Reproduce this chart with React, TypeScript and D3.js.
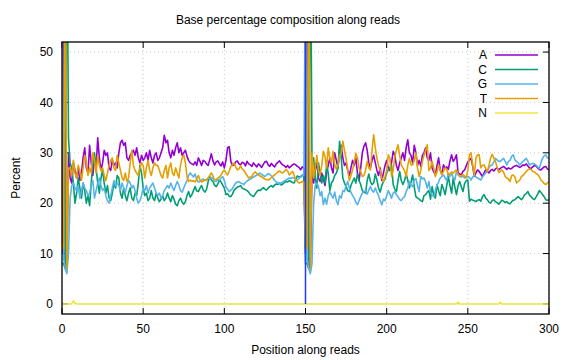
import React from "react";
import * as d3 from "d3";

const title = "Base percentage composition along reads";
const xLabel = "Position along reads";
const yLabel = "Percent";
const xTicks = [0, 50, 100, 150, 200, 250, 300];
const yTicks = [0, 10, 20, 30, 40, 50];
const seriesNames = ["A", "C", "G", "T", "N"];
const seriesColors = ["#9400d3", "#009e73", "#56b4e9", "#e69f00", "#f0e442"];
const separatorPositions = [150];
const separatorColor = "#1f3bff";

// position 0..300
const aValues = [
  10, 72, 8, 7, 30,
  25, 24, 28, 26.5, 25, 27, 24.5, 26, 29, 31,
  27, 26, 31.5, 28, 25.5, 29, 27, 33, 29, 26.5,
  28, 30.5, 29.5, 30, 27, 26.5, 28.5, 27.5, 28, 27,
  30, 32, 32.5, 31.5, 32, 29, 28.5, 29.5, 30, 30.5,
  29.5, 31, 29, 28, 29.5, 28.5, 29, 30, 28.5, 30.5,
  29, 28, 29.5, 30, 28.5, 29, 30, 31, 33.5, 32,
  32.5, 30, 29, 30.5, 29.5, 31, 32, 30, 31, 29.5,
  30, 30.5, 29.3, 28.5, 28, 27.8, 27.6, 28.2, 27.5, 29,
  28.3, 27.5, 28.5, 28.3, 27.8, 27.5, 28.6, 29.8, 28.4, 27.6,
  28.2, 28.4, 27.8, 27.4, 28.2, 27, 28.5, 31, 31.2, 28.3,
  27.5, 27.6, 28.2, 28.4, 27.8, 27.6, 28.1, 28, 27.4, 28.3,
  27.8, 27.6, 27.3, 28, 27.6, 27.2, 27.8, 27.5, 27.1, 27.7,
  28.2, 28.3, 27.6, 27.3, 27.9, 27.5, 27.2, 27.8, 28.1, 28.4,
  27.9, 27.6, 27.4, 27.1, 27.5, 27, 27.3, 27.6, 27.8, 27.6,
  27.3, 27.1, 26.6, 27.2, 26.9,
  10, 72, 8, 7, 27,
  24, 26.5, 28, 25, 24.3, 26, 24.8, 23.5, 26, 27.5,
  29, 27, 26, 30, 28.5, 27, 30.5, 31.5, 29, 27.5,
  28, 26.5, 25.5, 27, 28.5, 27.5, 29, 26, 24.5, 27,
  30, 31.3, 32, 30.5, 28, 27, 28.5, 29.5, 28, 26.5,
  25.5, 27, 24.5, 26, 27.5, 28.5, 27, 26.5, 28, 30.3,
  29.5, 27.5, 26.5, 28, 29, 30, 28.5, 31, 32.6, 30,
  29.5, 28, 31.5, 30, 27.5, 28.5, 27.3, 29.5, 30, 31,
  29, 28.5, 30, 27, 26.2, 25.6, 27.5, 29, 26.5, 25.8,
  27.6, 26.9, 27.2, 26.7, 28.4, 29.6, 28.3, 28.8, 29.6, 26,
  25.8, 25.6, 26.3, 26.6, 27.4, 28.2, 28.6, 28.9, 27.3, 25.3,
  26, 26.6, 26.3, 25.8, 25.3, 26, 26.6, 26.3, 26, 26.5,
  26.7, 26.4, 26.8, 27, 26.6, 26.9, 27.1, 27.3, 27, 26.7,
  27, 26.8, 26.9, 27.2, 27.4, 27.5, 27.3, 27.1, 27.3, 27.6,
  27.5, 27.8, 27.4, 27, 26.9, 27.2, 27.5, 27.4, 27, 26.7,
  26.6, 26.9, 27.2, 27.3, 26.8, 26.6,
];

const cValues = [
  8, 8, 7, 80, 33,
  28, 27, 24, 20, 22, 25, 23, 21, 24, 22.5,
  20, 21.5, 19.5, 24, 28, 30, 27, 24, 22, 25,
  26.5, 24, 22, 23.5, 21, 20.5, 22, 24, 23, 25.5,
  25, 22, 21, 23, 21.5, 20.5, 22, 23, 21, 20.5,
  22, 21.5, 24, 27.5, 26, 23, 21.5, 22, 20.5, 21,
  22.5, 21, 20.5, 22, 21, 20.3, 20.8, 21.5, 20.5, 21,
  22, 21, 20.3, 21.5, 20.8, 19.8, 19.5, 20.5, 21, 20.2,
  19.8, 20.3, 21.5, 22.3, 21.2, 21.7, 22.5, 23.3, 22.4, 22.3,
  23, 23.5, 22.6, 22.2, 22.7, 24.2, 25.3, 24.6, 24.3, 23.6,
  23.3, 23.8, 24.6, 24.2, 23.6, 23, 21.7, 21.9, 21.4, 21.3,
  21.8, 22.6, 22.9, 23.2, 23.3, 23.5, 23, 22.8, 22.7, 22.5,
  22.2, 21.7, 21.5, 21.3, 21.8, 22.3, 22.6, 22.5, 22.8, 23.1,
  22.8, 22.6, 23, 23.3, 23.5, 23.2, 23.6, 23.8, 23.7, 24,
  23.6, 23.8, 24.1, 24.3, 24.2, 24.5, 24.3, 24.1, 24, 24.8,
  25.4, 25.2, 25.3, 25.6, 25.4,
  8, 8, 7, 80, 28,
  29, 25, 23, 28, 26, 24, 25.5, 24, 27.5, 26,
  22.5, 24, 24.5, 25.5, 26, 27, 32.3, 29, 25, 24,
  23.3, 22.5, 22.3, 23.5, 24.3, 25, 24, 25.8, 24.5, 23.7,
  22.5, 22.2, 22, 24.5, 25.8, 24.3, 23.7, 24, 25.8, 24.6,
  23, 22.2, 23.5, 24.3, 24.8, 26, 26.6, 27, 27.6, 23.7,
  22.8, 22.3, 24.5, 26.3, 24.5, 23.7, 24.5, 25.8, 24.6, 23,
  24.2, 25.6, 23.2, 21.3, 21, 20.8, 20.5, 20.3, 21.5, 21.7,
  22.2, 22.5, 20.8, 23.3, 21.6, 21, 23.7, 22.4, 21.5, 23.7,
  22.8, 21.7, 23.5, 25.3, 23.5, 22, 25, 23.2, 21.7, 23.5,
  24.3, 23.2, 22.3, 23.9, 24.5, 24.6, 20.4, 20.8, 20.6, 20.5,
  20.3, 20.6, 20.7, 20.4, 21.3, 21.7, 21, 20.7, 20.2, 20,
  20.5, 20.7, 20.3, 20.1, 19.8, 20.2, 20.6, 20.4, 20.1, 20.3,
  20, 19.9, 20.3, 20.6, 20.7, 21, 21.3, 21, 20.7, 21.1,
  21.7, 21.9, 22.3, 21.6, 21.3, 20.9, 20.7, 21.2, 21.8, 22.5,
  22.2, 21.7, 21.3, 20.7, 20.6, 20.7,
];

const gValues = [
  70, 9, 7, 6, 10,
  21, 23.5, 24, 23, 22.5, 23.5, 21, 22.5, 24, 23,
  22.5, 21.5, 22, 23.5, 24.5, 21, 22.5, 24, 25, 23.5,
  22.5, 23, 21.5, 20.5, 20, 21.5, 23, 24.5, 23.5, 24,
  23.5, 22.5, 24, 23, 22, 23.5, 24.5, 24, 23, 23.5,
  22.5, 21, 20, 20.5, 21.5, 23, 22.5, 23.5, 22, 23,
  23.5, 24, 23, 22, 21.5, 22, 21, 21.5, 22.5, 23,
  23.5, 23, 24, 23.2, 22.5, 23.5, 24.3, 23.5, 22.5, 22.2,
  23, 23.8, 24.5, 25.5, 26, 25.6, 25.2, 25.8, 24.7, 24.2,
  24.3, 24.6, 24.8, 24.5, 24.7, 25, 24.8, 25.1, 24.9, 24.4,
  24.3, 24.7, 24.6, 25, 25.3, 24.5, 23.2, 22.8, 22.3, 22.6,
  22.9, 23.5, 24, 24.2, 24.3, 24, 23.9, 23.7, 24.1, 24.4,
  24.6, 24.8, 25, 25.2, 25.4, 25.6, 25.8, 26, 25.7, 25.5,
  25.3, 25.6, 25.9, 25.7, 25.4, 25, 24.5, 24.2, 24, 23.8,
  24, 24.2, 24.4, 24.6, 24.8, 25, 24.9, 25.1, 25, 24.7,
  24.6, 24.9, 25.2, 25.4, 25.6,
  70, 9, 7, 6, 8,
  20, 23.5, 24, 23.3, 21.5, 22.3, 19.7, 21, 19.8, 21.5,
  22.3, 21.5, 21, 22.2, 20.5, 19.7, 21.5, 21, 22.5, 22.3,
  23.5, 24.3, 23, 22.2, 21.5, 21, 20.2, 19.7, 20.5, 21.3,
  22, 22.3, 22.5, 21.8, 22.6, 23.3, 22.5, 22.2, 23, 22.2,
  21.5, 20.5, 19.7, 20.8, 20.5, 21.5, 22.5, 21.8, 21, 22,
  22.3, 21.7, 21.3, 20.7, 20.5, 21, 21.3, 22.3, 23, 24.3,
  23.6, 23.3, 24.6, 24.9, 23.5, 22.3, 25.3, 24.8, 25, 24.2,
  23, 24.3, 22.3, 21.6, 21.3, 22.5, 23.6, 24.2, 25, 25.3,
  25.6, 25, 24.5, 26, 25.3, 26, 25.1, 24.6, 26.3, 25.6,
  25.3, 25.2, 25.4, 25, 25.2, 25.3, 25.1, 24.6, 25.2, 25.6,
  25.2, 25, 24.8, 24.6, 25.2, 25.6, 26, 26.3, 27, 27.5,
  27.6, 28.2, 28.9, 28.6, 28.3, 28.3, 28.6, 28.9, 28.3, 27.6,
  28.3, 28.5, 29.3, 29.6, 28.6, 28.3, 28, 27.6, 28, 28.3,
  28.6, 28.9, 28.3, 27.6, 27.8, 27.9, 27.8, 27.6, 27.2, 26.9,
  28, 28.9, 29.4, 29.6, 29, 28.9,
];

const tValues = [
  12, 11, 78, 7, 27,
  27, 25.5, 28.5, 26, 25, 27.5, 26.5, 24.5, 27, 29.5,
  28, 25.5, 27, 26, 30, 28.5, 26, 29.5, 27.5, 26.5,
  27, 25.5, 24.5, 26, 27.5, 28.5, 29, 27, 26.5, 29.5,
  28, 26.5, 25, 24.5, 26, 24.3, 25, 28, 30.5, 27.5,
  26.5, 26, 25.5, 27, 28, 27.5, 25, 27, 28.5, 26.5,
  25.5, 27, 28, 27.5, 27.5, 26.5, 25.5, 25, 26.5, 27.5,
  25, 27, 28, 26, 25.5, 27, 26, 25, 27.5, 29,
  29.6, 28, 25.3, 24.3, 24.6, 24.3, 24.5, 24.2, 24.8, 25.5,
  24.6, 24.2, 24.4, 24.6, 24.5, 25, 25.5, 26, 25.4, 24.6,
  24.7, 25, 25.2, 25.6, 26.2, 26.6, 26, 25.6, 26.4, 27.3,
  27.6, 28, 27.2, 26.6, 26.8, 27.4, 26.8, 26.5, 26, 25.5,
  25, 25.2, 25.3, 25.9, 26.2, 25.9, 25.6, 25.4, 25.2, 25,
  24.8, 24.7, 24.6, 24.8, 25.1, 25.4, 25.6, 25.9, 26.2, 26.4,
  26.1, 26, 26.3, 26.7, 26.4, 25.6, 26, 26.3, 25.6, 24.6,
  24.3, 24, 24.1, 24.3, 24.2,
  12, 11, 78, 7, 30,
  25, 27, 29.5, 26.5, 25.5, 27.5, 30.3, 29.3, 27, 31,
  28.9, 28, 30.3, 27.6, 26.8, 27.5, 29.5, 30, 32.3, 30.5,
  28.9, 26.6, 24.5, 25.5, 26.6, 28, 29.9, 29, 27, 26.3,
  25.3, 25.5, 26.5, 28.3, 27, 26.6, 30.5, 33.6, 31, 28.9,
  27.5, 26.5, 25, 24.3, 25.3, 26.5, 29.6, 28.9, 25.3, 26.5,
  29.3, 30.5, 31.6, 29.5, 27.6, 27, 26.5, 25.3, 27.5, 28.9,
  27.6, 27.6, 28.5, 30, 27, 25.3, 26.5, 28.3, 29.5, 30.5,
  31.6, 26.5, 27, 28.3, 27, 25.3, 26.2, 27.6, 26.6, 25.6,
  26.3, 27, 26.7, 25.6, 25.8, 26.2, 26, 26.3, 26.6, 25.8,
  25.3, 25.5, 25.6, 25.4, 25, 26.5, 29.6, 30, 27.5, 25.6,
  29, 29.6, 29.6, 27, 27.5, 27.6, 26.9, 26.3, 27.5, 28.9,
  29.7, 29, 28.3, 27.2, 26.1, 26.3, 26.6, 26.2, 25.3, 25,
  24.8, 24.3, 25.5, 25.6, 25.2, 24, 24.3, 24.6, 25.3, 25.5,
  25.9, 26.3, 26.6, 26.8, 26.7, 26.3, 26.2, 25.9, 25.7, 25.3,
  24.6, 24.3, 23.9, 23.7, 24, 24.3,
];

const nValues = [
  0, 0, 0, 0, 0, 0, 0, 0.6, 0.2, 0, 0,
  0, 0, 0, 0, 0, 0, 0, 0, 0, 0,
  0, 0, 0, 0, 0, 0, 0, 0, 0, 0,
  0, 0, 0, 0, 0, 0, 0, 0, 0, 0,
  0, 0, 0, 0, 0, 0, 0, 0, 0, 0,
  0, 0, 0, 0, 0, 0, 0, 0, 0, 0,
  0, 0, 0, 0, 0, 0, 0, 0, 0, 0,
  0, 0, 0, 0, 0, 0, 0, 0, 0, 0,
  0, 0, 0, 0, 0, 0, 0, 0, 0, 0,
  0, 0, 0, 0, 0, 0, 0, 0, 0, 0,
  0, 0, 0, 0, 0, 0, 0, 0, 0, 0,
  0, 0, 0, 0, 0, 0, 0, 0, 0, 0,
  0, 0, 0, 0, 0, 0, 0, 0, 0, 0,
  0, 0, 0, 0, 0, 0, 0, 0, 0, 0,
  0, 0, 0, 0, 0, 0, 0, 0, 0, 0,
  0, 0, 0, 0, 0, 0, 0, 0, 0, 0,
  0, 0, 0, 0, 0, 0, 0, 0, 0, 0,
  0, 0, 0, 0, 0, 0, 0, 0, 0, 0,
  0, 0, 0, 0, 0, 0, 0, 0, 0, 0,
  0, 0, 0, 0, 0, 0, 0, 0, 0, 0,
  0, 0, 0, 0, 0, 0, 0, 0, 0, 0,
  0, 0, 0, 0, 0, 0, 0, 0, 0, 0,
  0, 0, 0, 0, 0, 0, 0, 0, 0, 0,
  0, 0, 0, 0, 0, 0, 0, 0, 0, 0,
  0, 0, 0, 0.3, 0, 0, 0, 0, 0, 0,
  0, 0, 0, 0, 0, 0, 0, 0, 0, 0,
  0, 0, 0, 0, 0, 0, 0, 0, 0, 0.3,
  0, 0, 0, 0, 0, 0, 0, 0, 0, 0,
  0, 0, 0, 0, 0, 0, 0, 0, 0, 0,
  0, 0, 0, 0, 0, 0, 0, 0, 0, 0,
];

const seriesValues = [aValues, cValues, gValues, tValues, nValues];

const W = 576;
const H = 360;
const FONT = "'Liberation Sans', Arial, Helvetica, sans-serif";

export default function App() {
  const plot = { left: 62, right: 549, top: 42, bottom: 314 };
  const x = d3.scaleLinear().domain([0, 300]).range([plot.left, plot.right]);
  const y = d3.scaleLinear().domain([-2, 52]).range([plot.bottom, plot.top]);
  const line = d3
    .line<number>()
    .x((_, i) => x(i))
    .y((d) => y(d));
  const tickLen = 6;
  const legendRowY = (i: number) => 55 + i * 14.5;

  return (
    <div style={{ position: "absolute", left: 0, top: 0 }}>
      <svg width={W} height={H} style={{ display: "block", background: "#fff" }} fontFamily={FONT}>
        <defs>
          <clipPath id="plotClip">
            <rect x={plot.left} y={plot.top} width={plot.right - plot.left} height={plot.bottom - plot.top} />
          </clipPath>
        </defs>
        <rect x={0} y={0} width={W} height={H} fill="#fff" />
        {/* grid */}
        {xTicks.map((t) => (
          <line key={"gx" + t} x1={x(t)} x2={x(t)} y1={plot.top} y2={plot.bottom} stroke="#c8c8c8" strokeWidth={1} strokeDasharray="1,3" />
        ))}
        {yTicks.map((t) => (
          <line key={"gy" + t} x1={plot.left} x2={plot.right} y1={y(t)} y2={y(t)} stroke="#c8c8c8" strokeWidth={1} strokeDasharray="1,3" />
        ))}
        {/* ticks */}
        {xTicks.map((t) => (
          <g key={"tx" + t}>
            <line x1={x(t)} x2={x(t)} y1={plot.bottom} y2={plot.bottom - tickLen} stroke="#000" strokeWidth={1} />
            <line x1={x(t)} x2={x(t)} y1={plot.top} y2={plot.top + tickLen} stroke="#000" strokeWidth={1} />
            <text x={x(t)} y={plot.bottom + 19} fontSize={12} textAnchor="middle" fill="#000">{t}</text>
          </g>
        ))}
        {yTicks.map((t) => (
          <g key={"ty" + t}>
            <line x1={plot.left} x2={plot.left + tickLen} y1={y(t)} y2={y(t)} stroke="#000" strokeWidth={1} />
            <line x1={plot.right} x2={plot.right - tickLen} y1={y(t)} y2={y(t)} stroke="#000" strokeWidth={1} />
            <text x={plot.left - 9} y={y(t) + 4.3} fontSize={12} textAnchor="end" fill="#000">{t}</text>
          </g>
        ))}
        {/* series */}
        <g clipPath="url(#plotClip)">
          {seriesValues.map((vals, i) => (
            <path key={seriesNames[i]} d={line(vals) || ""} fill="none" stroke={seriesColors[i]} strokeWidth={1.6} strokeLinejoin="round" />
          ))}
          {separatorPositions.map((p) => (
            <line key={"sep" + p} x1={x(p)} x2={x(p)} y1={y(0)} y2={plot.top} stroke={separatorColor} strokeWidth={1.5} />
          ))}
        </g>
        {/* border */}
        <rect x={plot.left} y={plot.top} width={plot.right - plot.left} height={plot.bottom - plot.top} fill="none" stroke="#000" strokeWidth={1.3} />
        {/* legend */}
        {seriesNames.map((n, i) => (
          <g key={"lg" + n}>
            <text x={487} y={legendRowY(i) + 4.3} fontSize={12} textAnchor="end" fill="#000">{n}</text>
            <line x1={495} x2={538} y1={legendRowY(i)} y2={legendRowY(i)} stroke={seriesColors[i]} strokeWidth={1.6} />
          </g>
        ))}
        {/* titles */}
        <text x={W / 2} y={24} fontSize={12} textAnchor="middle" fill="#000">{title}</text>
        <text x={(plot.left + plot.right) / 2} y={354} fontSize={12} textAnchor="middle" fill="#000">{xLabel}</text>
        <text transform={`translate(20,${(plot.top + plot.bottom) / 2}) rotate(-90)`} fontSize={12} textAnchor="middle" fill="#000">{yLabel}</text>
      </svg>
    </div>
  );
}
